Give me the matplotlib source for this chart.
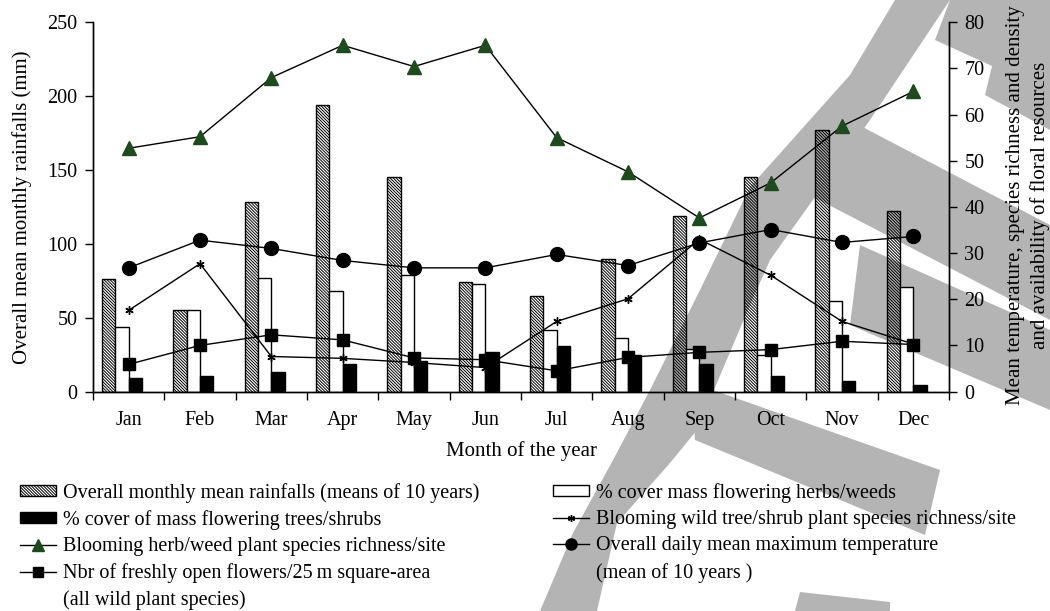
import numpy as np
import matplotlib
matplotlib.use('Agg')
import matplotlib.pyplot as plt
from matplotlib.patches import Patch, Polygon
from matplotlib.lines import Line2D

plt.rcParams['font.family'] = ['Liberation Serif', 'DejaVu Serif']
plt.rcParams['hatch.linewidth'] = 0.7

# ---------------------------------------------------------------------------
# data
# ---------------------------------------------------------------------------
months = ['Jan', 'Feb', 'Mar', 'Apr', 'May', 'Jun',
          'Jul', 'Aug', 'Sep', 'Oct', 'Nov', 'Dec']

# left axis (mm / %)
rainfall = [76, 55, 128, 194, 145, 74, 65, 90, 119, 145, 177, 122]
herb_cover = [44, 55, 77, 68, 79, 73, 42, 36, 29, 25, 61, 71]
tree_cover = [9, 10.5, 13, 19, 21, 27, 31, 25, 19, 10.5, 7, 4.5]

# right axis
herb_richness = [52.7, 55.2, 68, 75, 70.4, 75, 55, 47.6, 37.6, 45.2, 57.5, 65]
tree_richness = [17.6, 27.7, 7.6, 7.2, 6.3, 5.2, 15.2, 20.1, 33, 25.2, 15.2, 10.3]
temperature = [26.8, 32.8, 31, 28.4, 26.8, 26.8, 29.7, 27.3, 32.2, 35.1, 32.3, 33.6]
flowers = [5.9, 10, 12.3, 11.2, 7.3, 6.9, 4.5, 7.4, 8.5, 9.1, 10.9, 10.2]

W, H = 1050, 611
fig = plt.figure(figsize=(W / 100, H / 100), dpi=100)

# grey watermark strokes in the background (pixel coords, y downwards)
grey = '#b4b4b4'
watermark = [
    [(895, 0), (950, 0), (870, 120), (770, 260), (750, 305), (697, 430),
     (670, 463), (617, 523), (597, 611), (540, 611), (573, 533), (612, 462),
     (650, 390), (700, 290), (750, 187), (850, 75)],
    [(950, 0), (1050, 0), (1050, 130), (985, 95), (992, 66), (935, 40)],
    [(830, 110), (1050, 225), (1050, 320), (800, 190)],
    [(860, 245), (1050, 330), (1050, 410), (850, 325)],
    [(690, 382), (940, 470), (925, 535), (695, 440)],
    [(800, 592), (890, 602), (890, 611), (795, 611)],
]
for pts in watermark:
    fig.add_artist(Polygon([(x / W, 1 - y / H) for x, y in pts], closed=True,
                           transform=fig.transFigure, facecolor=grey,
                           edgecolor='none', zorder=-5))

ax = fig.add_axes([93 / W, 1 - 391.6 / H, (949 - 93) / W, (391.6 - 22.2) / H])
ax.set_facecolor('none')
ax2 = ax.twinx()

x = np.arange(len(months))
bw = 0.187
hatch = '\\' * 11

ax.bar(x - 0.28, rainfall, bw, facecolor='none', edgecolor='black',
       hatch=hatch, linewidth=1.0, zorder=2)
ax.bar(x - 0.093, herb_cover, bw, facecolor='white', edgecolor='black',
       linewidth=1.0, zorder=2)
ax.bar(x + 0.093, tree_cover, bw, facecolor='black', edgecolor='black',
       linewidth=1.0, zorder=2)

lw = 1.0
ax2.plot(x, herb_richness, color='black', lw=lw, marker='^', ms=9.5,
         mfc='#1e4a1e', mec='#1e4a1e', zorder=3)
ax2.plot(x, tree_richness, color='black', lw=lw, marker=(6, 2, 0), ms=6,
         mew=1.0, zorder=3)
ax2.plot(x, temperature, color='black', lw=lw, marker='o', ms=10,
         mfc='black', zorder=3)
ax2.plot(x, flowers, color='black', lw=lw, marker='s', ms=8,
         mfc='black', zorder=3)

ax.set_xlim(-0.5, 11.5)
ax.set_ylim(0, 250)
ax2.set_ylim(0, 80)
ax.set_yticks(np.arange(0, 251, 50))
ax2.set_yticks(np.arange(0, 81, 10))

ax.set_xticks(x)
ax.set_xticklabels(months)
ax.set_xticks(np.arange(-0.5, 12, 1), minor=True)
ax.tick_params(axis='x', which='major', length=0, pad=14, labelsize=14.5)
ax.tick_params(axis='x', which='minor', length=6, width=1.0, direction='out')
ax.tick_params(axis='y', length=6, width=1.0, direction='out', pad=5,
               labelsize=14.5)
ax2.tick_params(axis='y', length=6, width=1.0, direction='out', pad=5,
                labelsize=14.5)

for a in (ax, ax2):
    a.spines['top'].set_visible(False)
    for s in ('left', 'right', 'bottom'):
        a.spines[s].set_linewidth(1.0)

ax.set_ylabel('Overall mean monthly rainfalls (mm)', fontsize=15, va='center')
ax.yaxis.set_label_coords(-0.083, 0.5)
ax2.set_ylabel('Mean temperature, species richness and density\n'
               'and availability of floral resources',
               fontsize=15, va='center', ha='center', multialignment='center',
               linespacing=1.35)
ax2.yaxis.set_label_coords(1.092, 0.505)
ax.set_xlabel('Month of the year', fontsize=15, va='center')
ax.xaxis.set_label_coords(0.5, -0.161)

# legends
blank = Line2D([], [], linestyle='none')
left_handles = [
    Patch(facecolor='none', edgecolor='black', hatch=hatch, linewidth=1.0),
    Patch(facecolor='black', edgecolor='black'),
    Line2D([], [], color='black', lw=lw, marker='^', ms=8,
           mfc='#1e4a1e', mec='#1e4a1e'),
    Line2D([], [], color='black', lw=lw, marker='s', ms=7, mfc='black'),
    blank,
]
left_labels = [
    'Overall monthly mean rainfalls (means of 10 years)',
    '% cover of mass flowering trees/shrubs',
    'Blooming herb/weed plant species richness/site',
    'Nbr of freshly open flowers/25\u2009m square-area',
    '(all wild plant species)',
]
right_handles = [
    Patch(facecolor='white', edgecolor='black', linewidth=1.0),
    Line2D([], [], color='black', lw=lw, marker=(6, 2, 0), ms=5, mew=1.0),
    Line2D([], [], color='black', lw=lw, marker='o', ms=8, mfc='black'),
    blank,
]
right_labels = [
    '% cover mass flowering herbs/weeds',
    'Blooming wild tree/shrub plant species richness/site',
    'Overall daily mean maximum temperature',
    '(mean of 10 years )',
]
leg_kw = dict(loc='upper left', frameon=False, fontsize=14.5, borderpad=0,
              borderaxespad=0, handlelength=1.8, handleheight=0.45,
              handletextpad=0.35, labelspacing=0.36)
fig.legend(left_handles, left_labels, bbox_to_anchor=(20 / W, 1 - 483 / H),
           **leg_kw)
fig.legend(right_handles, right_labels, bbox_to_anchor=(553 / W, 1 - 483 / H),
           **leg_kw)

fig.savefig('out.png', dpi=100)
